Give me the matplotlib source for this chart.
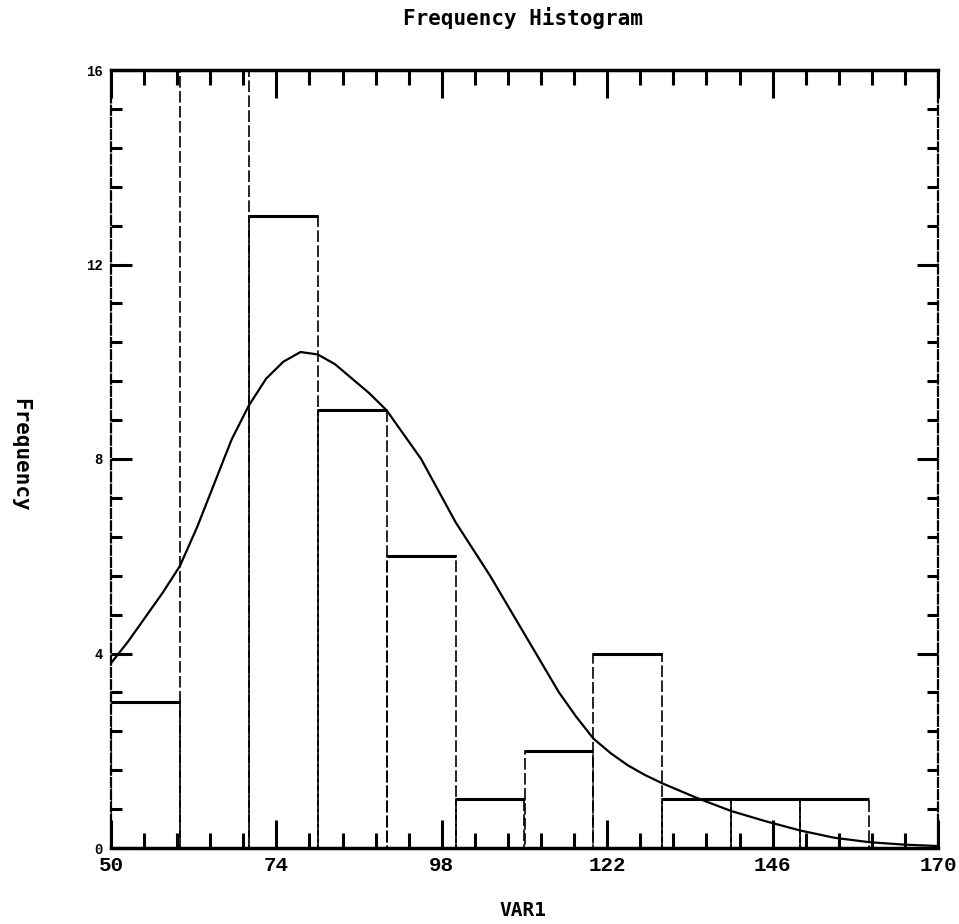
import numpy as np
import matplotlib
matplotlib.use("Agg")
import matplotlib.pyplot as plt
from matplotlib.ticker import FixedLocator, MultipleLocator

# ---- data ----
bin_edges = [50, 60, 70, 80, 90, 100, 110, 120, 130, 140, 150, 160, 170]
counts = [3, 17, 13, 9, 6, 1, 2, 4, 1, 1, 1, 0]   # 60-70 bin runs off the top of the chart

curve_x = [50, 52.5, 55, 57.5, 60, 62.5, 65, 67.5, 70, 72.5, 75, 77.5, 80, 82.5, 85,
           87.5, 90, 92.5, 95, 97.5, 100, 102.5, 105, 107.5, 110, 112.5, 115, 117.5,
           120, 122.5, 125, 127.5, 130, 135, 140, 145, 150, 155, 160, 165, 170]
curve_y = [3.8, 4.25, 4.75, 5.25, 5.8, 6.6, 7.5, 8.4, 9.1, 9.65, 10.0, 10.2, 10.15, 9.95, 9.65,
           9.35, 9.0, 8.5, 8.0, 7.35, 6.7, 6.15, 5.6, 5.0, 4.4, 3.8, 3.2, 2.7,
           2.25, 1.95, 1.7, 1.5, 1.33, 1.03, 0.76, 0.55, 0.36, 0.21, 0.12, 0.07, 0.04]

x_ticks = [50, 74, 98, 122, 146, 170]
y_ticks = [0, 4, 8, 12, 16]

title = "Frequency Histogram"
xlabel = "VAR1"
ylabel = "Frequency"

# ---- figure ----
W, H = 959, 924
fig = plt.figure(figsize=(W / 100, H / 100), dpi=100)
ax = fig.add_axes([111 / W, 1 - 848 / H, 827 / W, 778 / H])

left = np.array(bin_edges[:-1], dtype=float)
right = np.array(bin_edges[1:], dtype=float)
widths = right - left
cnt = np.array(counts, dtype=float)

# bar edges (thin, broken verticals like the scan)
nz = cnt > 0
ax.bar(left[nz], cnt[nz], width=widths[nz], align="edge", fill=False,
       edgecolor="black", linewidth=1.2, linestyle=(0, (7, 2)))
# solid bar tops
ax.hlines(cnt[nz], left[nz], right[nz], colors="black", linewidth=2.2)

# fitted curve
ax.plot(curve_x, curve_y, color="black", linewidth=1.6)

ax.set_xlim(50, 170)
ax.set_ylim(0, 16)

ax.xaxis.set_major_locator(FixedLocator(x_ticks))
ax.xaxis.set_minor_locator(FixedLocator(np.arange(50, 170.01, 4.8)))
ax.yaxis.set_major_locator(FixedLocator(y_ticks))
ax.yaxis.set_minor_locator(MultipleLocator(0.8))

ax.tick_params(axis="both", which="both", direction="in",
               top=True, right=True, width=2.2, color="black")
ax.tick_params(axis="x", which="major", length=20, pad=6)
ax.tick_params(axis="x", which="minor", length=11)
ax.tick_params(axis="y", which="major", length=15, pad=6)
ax.tick_params(axis="y", which="minor", length=8)

for lab in ax.get_xticklabels():
    lab.set_fontfamily("Liberation Mono")
    lab.set_fontweight("bold")
    lab.set_fontsize(15)
for lab in ax.get_yticklabels():
    lab.set_fontfamily("Liberation Mono")
    lab.set_fontweight("bold")
    lab.set_fontsize(10)

for side in ("top", "bottom"):
    ax.spines[side].set_linewidth(2.5)
for side in ("left", "right"):
    ax.spines[side].set_linewidth(1.6)
    ax.spines[side].set_linestyle((0, (4, 1.5)))

fig.text(523 / W, 1 - 18 / H, title, ha="center", va="center",
         fontfamily="DejaVu Sans Mono", fontweight="bold", fontsize=15)
fig.text(523 / W, 1 - 910 / H, xlabel, ha="center", va="center",
         fontfamily="DejaVu Sans Mono", fontweight="bold", fontsize=14)
fig.text(20 / W, 1 - 455 / H, ylabel, ha="center", va="center", rotation=270,
         fontfamily="DejaVu Sans Mono", fontweight="bold", fontsize=15)

fig.savefig("out.png", dpi=100)
